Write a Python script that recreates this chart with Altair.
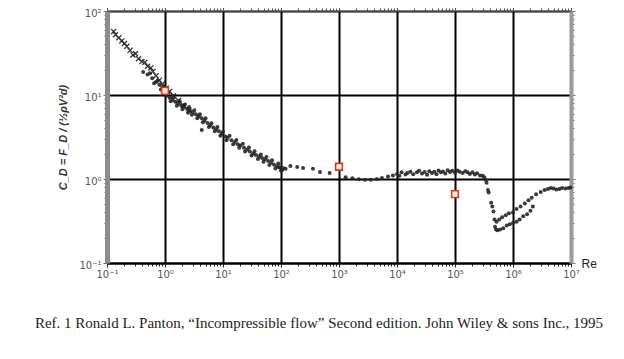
import altair as alt
import pandas as pd

# ---------------- data ----------------
# crosses (low Reynolds numbers)
re_cross = [0.13, 0.14, 0.16, 0.18, 0.2, 0.22, 0.25, 0.28, 0.31, 0.35, 0.4, 0.45,
            0.5, 0.57, 0.62, 0.7, 0.8, 0.9, 1.05, 1.2, 1.4, 1.7, 2.1, 2.6]
cd_cross = [57, 52, 48, 44, 41, 38, 34, 30, 31, 27, 25, 24.5,
            22, 21, 19, 17, 15, 13.5, 12, 11, 9.8, 8.6, 7.5, 6.6]

# dots (main band)
re_dot = [
    0.42, 0.5, 0.6, 0.7, 0.8, 0.9, 1.0, 1.1, 1.2, 1.35, 1.5, 1.7, 1.9, 2.1, 2.4, 2.7,
    3.0, 3.4, 3.8, 4.3, 4.8, 5.4, 6.0, 6.8, 7.6, 8.5, 9.5, 11, 12, 14, 16, 18, 20,
    23, 26, 29, 33, 37, 42, 47, 53, 60, 68, 76, 85, 95, 110,
    0.55, 0.75, 0.95, 1.15, 1.4, 1.8, 2.2, 2.6, 3.2, 4.0, 5.0, 6.3, 8.0, 10, 13, 17,
    22, 28, 35, 45, 56, 70, 90,
    0.65, 0.85, 1.05, 1.25, 1.6, 2.0, 2.5, 2.9, 3.6, 4.5, 5.7, 7.2, 9, 11.5, 15, 19,
    24, 31, 40, 50, 63, 80, 100,
    4.3, 105, 120, 92,
    145, 190, 240, 355, 470, 690,
    1300, 1700, 2200, 2800, 3500, 4500, 5500, 7000, 8500,
    1.0e4, 1.1e4, 1.2e4, 1.4e4, 1.5e4, 1.7e4, 1.9e4, 2.2e4, 2.4e4, 2.7e4, 3.0e4,
    3.3e4, 3.6e4, 4.0e4, 4.4e4, 4.8e4, 5.2e4, 5.7e4, 6.2e4, 6.8e4, 7.5e4, 8.2e4,
    9.0e4, 1.0e5, 1.1e5, 1.2e5, 1.35e5, 1.5e5, 1.65e5, 1.8e5, 2.0e5, 2.2e5, 2.4e5,
    2.7e5, 3.0e5, 3.2e5, 3.4e5, 3.5e5, 3.7e5, 3.8e5, 4.2e5, 4.4e5, 4.6e5, 4.8e5,
    4.9e5, 5.1e5,
    5.4e5, 6.0e5, 6.8e5, 7.8e5, 8.8e5, 1.0e6, 1.15e6, 1.3e6, 1.5e6, 1.75e6, 2.0e6, 2.2e6,
    5.2e5, 5.8e5, 6.5e5, 7.5e5, 8.5e5, 1.0e6, 1.15e6, 1.35e6, 1.6e6, 1.85e6, 2.1e6, 2.5e6,
    3.0e6, 3.5e6, 4.0e6, 4.5e6, 5.0e6, 5.6e6, 6.3e6, 7.0e6, 8.0e6, 9.0e6, 9.8e6,
]
cd_dot = [
    18.8, 17.5, 15.8, 14.3, 13.2, 12.1, 11.2, 10.2, 9.3, 8.8, 8.3, 7.9, 7.5, 7.2, 6.8, 6.5,
    6.2, 5.9, 5.6, 5.3, 4.95, 4.65, 4.35, 4.1, 3.9, 3.7, 3.45, 3.2, 3.1, 2.9, 2.75, 2.6, 2.5,
    2.35, 2.25, 2.13, 2.0, 1.93, 1.85, 1.78, 1.72, 1.64, 1.56, 1.48, 1.42, 1.37, 1.34,
    18.1, 14.9, 12.6, 10.6, 9.4, 8.4, 7.7, 7.2, 6.6, 5.9, 5.3, 4.6, 4.15, 3.65, 3.27, 2.92,
    2.62, 2.37, 2.14, 1.96, 1.83, 1.67, 1.53,
    13.8, 11.6, 9.8, 8.4, 7.45, 6.75, 6.15, 5.8, 5.3, 4.75, 4.15, 3.7, 3.27, 2.9, 2.6, 2.35,
    2.13, 1.9, 1.73, 1.61, 1.47, 1.33, 1.25,
    3.83, 1.28, 1.32, 1.38,
    1.43, 1.39, 1.35, 1.32, 1.21, 1.18,
    1.05, 1.02, 0.99, 0.98, 0.98, 1.0, 1.03, 1.07, 1.1,
    1.15, 1.09, 1.2, 1.13, 1.18, 1.22, 1.14, 1.2, 1.25, 1.16, 1.21,
    1.12, 1.24, 1.18, 1.22, 1.14, 1.26, 1.2, 1.23, 1.16, 1.27, 1.21,
    1.25, 1.19, 1.26, 1.22, 1.18, 1.24, 1.2, 1.15, 1.2, 1.13, 1.17,
    1.1, 1.09, 1.05, 0.97, 0.9, 0.74, 0.69, 0.52, 0.47, 0.41, 0.33,
    0.27, 0.25,
    0.245, 0.25, 0.26, 0.28, 0.29, 0.3, 0.31, 0.33, 0.36, 0.38, 0.42, 0.47,
    0.31, 0.33, 0.35, 0.37, 0.39, 0.4, 0.44, 0.47, 0.51, 0.56, 0.6, 0.66,
    0.7, 0.74, 0.76, 0.78, 0.77, 0.75, 0.76, 0.78, 0.77, 0.78, 0.79,
]

# highlighted reference points (red squares)
re_ref = [1, 1000, 1e5]
cd_ref = [11.2, 1.4, 0.66]

x_tick_labels = ["10⁻¹", "10⁰", "10¹", "10²", "10³", "10⁴", "10⁵", "10⁶", "10⁷"]
y_tick_labels = ["10⁻¹", "10⁰", "10¹", "10²"]
caption = ("Ref. 1 Ronald L. Panton, \u201cIncompressible flow\u201d Second edition. "
           "John Wiley & sons Inc., 1995")

# ---------------- tables ----------------
df_cross = pd.DataFrame({"Re": re_cross, "Cd": cd_cross})
df_dot = pd.DataFrame({"Re": re_dot, "Cd": cd_dot})
df_ref = pd.DataFrame({"Re": re_ref, "Cd": cd_ref})

x_vals = [m * 10.0 ** k for k in range(-1, 7) for m in range(1, 10)] + [1e7]
y_vals = [m * 10.0 ** k for k in range(-1, 2) for m in range(1, 10)] + [100.0]

MAJOR = "abs(log(datum.value)/LN10 - round(log(datum.value)/LN10)) < 0.001"


def lab_expr(labels):
    arr = "[" + ",".join("'" + s + "'" for s in labels) + "]"
    return f"({MAJOR}) ? {arr}[round(log(datum.value)/LN10)+1] : ''"


xs = alt.Scale(type="log", domain=[0.1, 1e7], nice=False)
ys = alt.Scale(type="log", domain=[0.1, 100], nice=False)

tick_cond = {"condition": {"test": MAJOR, "value": 4}, "value": 3}
grid_cond = {"condition": {"test": MAJOR, "value": 1}, "value": 0}

x_axis_main = alt.Axis(
    orient="bottom", values=x_vals, labelExpr=lab_expr(x_tick_labels),
    grid=True, gridColor="black", gridWidth=2, gridOpacity=grid_cond,
    tickSize=tick_cond, tickColor="#222", tickWidth=1,
    domainColor="black", domainWidth=2,
    labelFont="DejaVu Sans", labelFontSize=10, labelColor="#555",
    labelPadding=2, labelOverlap=False, labelFlush=False,
    title="Re", titleX=474, titleY=0, titleAlign="left", titleBaseline="middle",
    titleFont="Liberation Sans", titleFontSize=12, titleFontWeight="normal",
    titleColor="#222",
)
y_axis_main = alt.Axis(
    orient="left", values=y_vals, labelExpr=lab_expr(y_tick_labels),
    grid=True, gridColor="black", gridWidth=2, gridOpacity=grid_cond,
    tickSize=tick_cond, tickColor="#666", tickWidth=1,
    domainColor="#8c8c8c", domainWidth=5,
    labelFont="DejaVu Sans", labelFontSize=10, labelColor="#555",
    labelPadding=2, labelOffset=2, labelOverlap=False, labelFlush=False,
    title="C_D = F_D / (½ρV²d)", titleFont="Liberation Sans", titleFontSize=11,
    titleFontWeight="bold", titleFontStyle="italic", titleColor="#333",
    titlePadding=10,
)
x_axis_top = alt.Axis(
    orient="top", values=x_vals, labels=False, grid=False,
    tickSize=tick_cond, tickColor="#555", tickWidth=1,
    domainColor="#444", domainWidth=1, title=None,
)
y_axis_right = alt.Axis(
    orient="right", values=y_vals, labels=False, grid=False,
    tickSize=tick_cond, tickColor="#777", tickWidth=1,
    domainColor="#9a9a9a", domainWidth=4, title=None,
)

dots = alt.Chart(df_dot).mark_circle(size=16, color="#262626", opacity=0.9).encode(
    x=alt.X("Re:Q", scale=xs, axis=x_axis_main),
    y=alt.Y("Cd:Q", scale=ys, axis=y_axis_main),
)

frame = alt.Chart(df_ref).mark_point(opacity=0).encode(
    x=alt.X("Re:Q", scale=xs, axis=x_axis_top),
    y=alt.Y("Cd:Q", scale=ys, axis=y_axis_right),
)

crosses = alt.Chart(df_cross).mark_point(
    shape="M-1,-1L1,1M-1,1L1,-1", size=26, filled=False,
    stroke="#222", strokeWidth=1.3, opacity=0.9,
).encode(
    x=alt.X("Re:Q", scale=xs, axis=None),
    y=alt.Y("Cd:Q", scale=ys, axis=None),
)

refs = alt.Chart(df_ref).mark_square(
    size=45, fill="#fff8dc", stroke="#e0301e", strokeWidth=1.6, opacity=1,
).encode(
    x=alt.X("Re:Q", scale=xs, axis=None),
    y=alt.Y("Cd:Q", scale=ys, axis=None),
)

chart = alt.layer(dots, crosses, frame, refs).resolve_axis(
    x="independent", y="independent"
).properties(
    width=464, height=252,
    autosize="none",
    padding={"left": 99, "top": 3, "right": 45, "bottom": 88},
    title=alt.TitleParams(
        text=caption, orient="bottom", anchor="middle", frame="group",
        font="Liberation Serif", fontSize=15, fontWeight="normal",
        color="#222", offset=37, dx=-20,
    ),
).configure_view(stroke=None).configure(background="white")

chart.save("out.html", embed_options={"renderer": "svg", "actions": False})
